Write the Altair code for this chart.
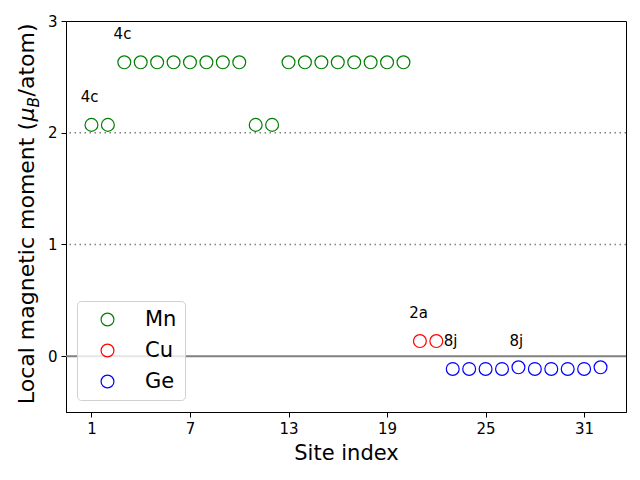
import altair as alt
import pandas as pd

# Data
mn_sites = [1, 2, 3, 4, 5, 6, 7, 8, 9, 10, 11, 12, 13, 14, 15, 16, 17, 18, 19, 20]
mn_vals = [2.07, 2.07, 2.63, 2.63, 2.63, 2.63, 2.63, 2.63, 2.63, 2.63,
           2.07, 2.07, 2.63, 2.63, 2.63, 2.63, 2.63, 2.63, 2.63, 2.63]
cu_sites = [21, 22]
cu_vals = [0.135, 0.135]
ge_sites = [23, 24, 25, 26, 27, 28, 29, 30, 31, 32]
ge_vals = [-0.115, -0.115, -0.115, -0.115, -0.10, -0.115, -0.115, -0.115, -0.115, -0.10]

ann_text = ["4c", "4c", "2a", "8j", "8j"]
ann_x = [0.35, 2.35, 20.35, 22.45, 26.45]
ann_y = [2.32, 2.88, 0.385, 0.135, 0.135]

x_ticks = [1, 7, 13, 19, 25, 31]
y_ticks = [0, 1, 2, 3]

elements = ["Mn", "Cu", "Ge"]
colors = ["green", "red", "blue"]

# y-axis title pieces (to imitate the mathtext subscript)
title_parts = ["Local magnetic moment (", "μ", "B", "/atom)"]

rows = []
for s, v in zip(mn_sites, mn_vals):
    rows.append({"site": s, "moment": v, "element": "Mn"})
for s, v in zip(cu_sites, cu_vals):
    rows.append({"site": s, "moment": v, "element": "Cu"})
for s, v in zip(ge_sites, ge_vals):
    rows.append({"site": s, "moment": v, "element": "Ge"})
df = pd.DataFrame(rows)

ann = pd.DataFrame({"x": ann_x, "y": ann_y, "t": ann_text})

xscale = alt.Scale(domain=[-0.55, 33.55], nice=False, zero=False)
yscale = alt.Scale(domain=[-0.5, 3], nice=False, zero=False)

FONT = "DejaVu Sans"

zero_line = alt.Chart(pd.DataFrame({"y": [0]})).mark_rule(
    color="#808080", strokeWidth=2
).encode(y=alt.Y("y:Q", scale=yscale))

dotted = alt.Chart(pd.DataFrame({"y": [1, 2]})).mark_rule(
    color="#808080", strokeWidth=1.5, strokeDash=[1.5, 3.5]
).encode(y=alt.Y("y:Q", scale=yscale))

points = alt.Chart(df).mark_point(
    filled=False, size=165, strokeWidth=1.2, opacity=1
).encode(
    x=alt.X("site:Q", scale=xscale,
            axis=alt.Axis(values=x_ticks, title="Site index", grid=False, format="d")),
    y=alt.Y("moment:Q", scale=yscale,
            axis=alt.Axis(values=y_ticks, title=None, grid=False, format="d")),
    color=alt.Color("element:N",
                    scale=alt.Scale(domain=elements, range=colors),
                    legend=alt.Legend(
                        title=None, orient="none", legendX=11, legendY=280,
                        labelFontSize=21, labelFont=FONT, symbolSize=165,
                        symbolStrokeWidth=1.2, symbolType="circle",
                        symbolOffset=12, labelOffset=27, rowPadding=9,
                        padding=8, fillColor="rgba(255,255,255,0.8)",
                        strokeColor="#d0d0d0", cornerRadius=4,
                        labelLimit=200)),
)

texts = alt.Chart(ann).mark_text(
    align="left", baseline="middle", fontSize=15, font=FONT, color="black"
).encode(x=alt.X("x:Q", scale=xscale), y=alt.Y("y:Q", scale=yscale), text="t:N")

# y-axis title built from text marks (rotated), anchored at the end of "("
TX = -32.5
TY = 101
title_src = pd.DataFrame({"t": title_parts})
t1 = alt.Chart(title_src).transform_filter(alt.datum.t == title_parts[0]).mark_text(
    align="right", baseline="alphabetic", angle=270, fontSize=22, font=FONT, color="black"
).encode(x=alt.value(TX), y=alt.value(TY), text="t:N")
t2 = alt.Chart(title_src).transform_filter(alt.datum.t == title_parts[1]).mark_text(
    align="left", baseline="alphabetic", angle=270, fontSize=22, font=FONT,
    fontStyle="italic", color="black", dx=0.5
).encode(x=alt.value(TX), y=alt.value(TY), text="t:N")
t3 = alt.Chart(title_src).transform_filter(alt.datum.t == title_parts[2]).mark_text(
    align="left", baseline="alphabetic", angle=270, fontSize=15.4, font=FONT,
    fontStyle="italic", color="black", dx=14.5, dy=5
).encode(x=alt.value(TX), y=alt.value(TY), text="t:N")
t4 = alt.Chart(title_src).transform_filter(alt.datum.t == title_parts[3]).mark_text(
    align="left", baseline="alphabetic", angle=270, fontSize=22, font=FONT,
    color="black", dx=25.5
).encode(x=alt.value(TX), y=alt.value(TY), text="t:N")

chart = alt.layer(zero_line, dotted, points, texts, t1, t2, t3, t4).properties(
    width=560, height=391,
    autosize=alt.AutoSizeParams(type="none"),
    padding={"left": 66, "top": 21, "right": 14, "bottom": 68},
).configure_view(
    stroke="black", strokeWidth=1
).configure_axis(
    domainColor="black", tickColor="black", tickSize=5, labelPadding=4,
    labelFont=FONT, labelFontSize=15, labelColor="black",
    titleFont=FONT, titleFontSize=21, titleFontWeight="normal", titleColor="black",
).configure_axisX(titlePadding=6)

chart.save("out.html", embed_options={"renderer": "svg", "actions": False})
